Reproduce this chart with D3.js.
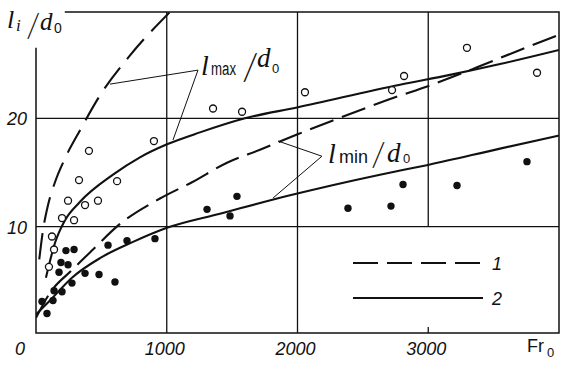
<!DOCTYPE html>
<html>
<head>
<meta charset="utf-8">
<script src="https://cdn.jsdelivr.net/npm/d3@7"></script>
<style>
body { margin: 0; background: #fff; }
svg text { font-family: "Liberation Sans", Arial, sans-serif; fill: #111; }
svg text.sym { font-family: "Liberation Serif", serif; }
svg text.slash { font-family: Lato, "Liberation Sans", sans-serif; font-weight: 300; }
</style>
</head>
<body>
<div id="chart"></div>
<script>
// open circles, l_max / d_0
var openFr = [122, 138, 99, 199, 291, 245, 375, 474, 329, 620, 405, 902, 1354, 1576, 2057, 2723, 2815, 3296, 3832];
var openL = [9.1, 7.9, 6.3, 10.8, 10.6, 12.4, 12.0, 12.4, 14.3, 14.2, 17.0, 17.9, 20.9, 20.6, 22.4, 22.6, 23.9, 26.5, 24.2];

// filled circles, l_min / d_0
var filledFr = [46, 84, 138, 130, 199, 275, 176, 191, 245, 375, 482, 604, 229, 291, 551, 696, 910, 1308, 1484, 1537, 2386, 2715, 2807, 3220, 3755];
var filledL = [3.1, 2.0, 4.1, 3.2, 4.0, 4.8, 5.8, 6.7, 6.5, 5.7, 5.6, 4.9, 7.8, 7.9, 8.3, 8.7, 8.9, 11.6, 11.0, 12.8, 11.7, 11.9, 13.9, 13.8, 16.0];

// curve 1 (dashed) and curve 2 (solid) for both quantities
var maxDashFr = [25, 54, 92, 145, 222, 337, 489, 719, 1025];
var maxDashL = [7.0, 9.7, 12.0, 14.1, 16.3, 18.9, 22.1, 25.8, 29.8];
var maxSolidFr = [76, 145, 222, 337, 589, 795, 1002, 1254, 1598, 1996, 2784, 3166, 3549, 4000];
var maxSolidL = [5.3, 8.5, 10.6, 12.3, 14.8, 16.4, 17.6, 18.7, 20.0, 21.0, 23.1, 24.0, 25.0, 26.3];
var minDashFr = [0, 107, 275, 436, 627, 948, 1193, 1461, 1713, 1996, 2271, 2692, 3052, 3373, 3702, 4000];
var minDashL = [1.6, 3.9, 6.0, 7.9, 10.1, 12.6, 14.1, 15.9, 17.1, 18.5, 19.8, 21.7, 23.2, 24.7, 26.3, 27.7];
var minSolidFr = [0, 107, 275, 489, 742, 1002, 1407, 1943, 2631, 2998, 3549, 4000];
var minSolidL = [1.9, 3.2, 5.3, 7.1, 8.6, 9.9, 11.2, 12.9, 14.8, 15.7, 17.2, 18.4];

var xTicks = [0, 1000, 2000, 3000];
var yTicks = [10, 20];
var legendLabels = ["1", "2"];

window.onload = function() {
	drawChart();
};


function pairs(xs, ys) {
	return xs.map(function(d, i) { return [d, ys[i]]; });
};


function addText(svg, px, py, str, size, italic, cls) {
	return svg.append("text")
		.attr("class", cls || null)
		.attr("x", px)
		.attr("y", py)
		.attr("font-size", size)
		.attr("font-style", italic ? "italic" : "normal")
		.text(str);
};


function drawChart() {
	var width = 563,
		height = 365,
		ink = "#111";

	var x = d3.scaleLinear().domain([0, 4000]).range([36, 559]);
	var y = d3.scaleLinear().domain([0.2, 29.8]).range([333, 12]);

	var svg = d3.select("#chart").append("svg")
		.attr("width", width)
		.attr("height", height);

	svg.append("defs").append("clipPath").attr("id", "plot")
		.append("rect")
		.attr("x", x(0)).attr("y", y(29.8))
		.attr("width", x(4000) - x(0)).attr("height", y(0.2) - y(29.8));

	// grid
	svg.selectAll(".vgrid")
		.data(xTicks.slice(1))
		.enter().append("line")
		.attr("x1", x).attr("x2", x)
		.attr("y1", y(29.8))
		.attr("y2", function(d) { return d === 3000 ? y(10) : y(0.2); })
		.attr("stroke", ink).attr("stroke-width", 1.3);

	svg.append("line")
		.attr("x1", x(3000)).attr("x2", x(3000))
		.attr("y1", y(0.2)).attr("y2", y(0.2) - 6)
		.attr("stroke", ink).attr("stroke-width", 1.3);

	svg.selectAll(".hgrid")
		.data(yTicks)
		.enter().append("line")
		.attr("x1", x(0)).attr("x2", x(4000))
		.attr("y1", y).attr("y2", y)
		.attr("stroke", ink).attr("stroke-width", 1.3);

	// frame, open at the top left corner for the axis title
	svg.append("path")
		.attr("d", d3.line()([[x(0), y(26.5)], [x(0), y(0.2)], [x(4000), y(0.2)], [x(4000), y(29.8)], [x(220), y(29.8)]]))
		.attr("fill", "none").attr("stroke", ink).attr("stroke-width", 1.5);

	// curves
	var line = d3.line()
		.x(function(d) { return x(d[0]); })
		.y(function(d) { return y(d[1]); })
		.curve(d3.curveMonotoneX);

	var curves = [
		{pts: pairs(maxDashFr, maxDashL), dash: "26,11"},
		{pts: pairs(maxSolidFr, maxSolidL), dash: null},
		{pts: pairs(minDashFr, minDashL), dash: "25,9"},
		{pts: pairs(minSolidFr, minSolidL), dash: null}
	];

	svg.append("g").attr("clip-path", "url(#plot)")
		.selectAll("path")
		.data(curves)
		.enter().append("path")
		.attr("d", function(d) { return line(d.pts); })
		.attr("fill", "none")
		.attr("stroke", ink)
		.attr("stroke-width", 2.1)
		.attr("stroke-dasharray", function(d) { return d.dash; });

	// points
	svg.selectAll(".open")
		.data(pairs(openFr, openL))
		.enter().append("circle")
		.attr("cx", function(d) { return x(d[0]); })
		.attr("cy", function(d) { return y(d[1]); })
		.attr("r", 3.5)
		.attr("fill", "#fff").attr("stroke", ink).attr("stroke-width", 1.3);

	svg.selectAll(".filled")
		.data(pairs(filledFr, filledL))
		.enter().append("circle")
		.attr("cx", function(d) { return x(d[0]); })
		.attr("cy", function(d) { return y(d[1]); })
		.attr("r", 3.7)
		.attr("fill", ink);

	// leader lines
	var leaders = [
		[[566, 23.15], [1239, 24.44], [1048, 18.0]],
		[[1851, 17.9], [2187, 16.5], [1813, 12.65]]
	];
	svg.selectAll(".leader")
		.data(leaders)
		.enter().append("path")
		.attr("d", function(d) { return d3.line().x(function(p) { return x(p[0]); }).y(function(p) { return y(p[1]); })(d); })
		.attr("fill", "none").attr("stroke", ink).attr("stroke-width", 1);

	// curve labels
	addText(svg, 201, 75, "l", 28, true, "sym");
	addText(svg, 211, 75, "max", 18, false).attr("textLength", 25).attr("lengthAdjust", "spacingAndGlyphs");
	addText(svg, 242, 80, "/", 38, false, "slash");
	addText(svg, 257, 67, "d", 27, true, "sym");
	addText(svg, 272, 73, "0", 13, false);

	addText(svg, 328, 163, "l", 28, true, "sym");
	addText(svg, 339, 163, "min", 18, false).attr("textLength", 29).attr("lengthAdjust", "spacingAndGlyphs");
	addText(svg, 371, 166, "/", 34, false, "slash");
	addText(svg, 387, 162, "d", 27, true, "sym");
	addText(svg, 403, 163, "0", 13, false);

	// axis title
	addText(svg, 7, 28, "l", 26, true, "sym");
	addText(svg, 16, 31, "i", 17, true, "sym");
	addText(svg, 26, 37, "/", 33, false, "slash");
	addText(svg, 40, 30, "d", 25, true, "sym");
	addText(svg, 54, 33, "0", 14, false);

	// tick labels
	svg.selectAll(".xlab")
		.data(xTicks)
		.enter().append("text")
		.attr("x", function(d) { return d === 0 ? x(d) - 16 : x(d) - 2; })
		.attr("y", 355)
		.attr("text-anchor", "middle")
		.attr("font-size", 18)
		.attr("font-style", "italic")
		.text(function(d) { return d; });

	svg.selectAll(".ylab")
		.data(yTicks)
		.enter().append("text")
		.attr("x", 27)
		.attr("y", function(d) { return y(d) + 7; })
		.attr("text-anchor", "end")
		.attr("font-size", 18)
		.attr("font-style", "italic")
		.text(function(d) { return d; });

	addText(svg, 527, 352, "Fr", 18, false);
	addText(svg, 547, 357, "0", 13, false);

	// legend
	var legend = svg.selectAll(".legend")
		.data(legendLabels)
		.enter().append("g")
		.attr("transform", function(d, i) { return "translate(353," + (263 + i * 35) + ")"; });

	legend.append("line")
		.attr("x1", 0).attr("x2", 130)
		.attr("stroke", ink).attr("stroke-width", 2.1)
		.attr("stroke-dasharray", function(d, i) { return i === 0 ? "25,9" : null; });

	legend.append("text")
		.attr("x", 139)
		.attr("y", 7)
		.attr("font-size", 18)
		.attr("font-style", "italic")
		.text(function(d) { return d; });
};
</script>
</body>
</html>
